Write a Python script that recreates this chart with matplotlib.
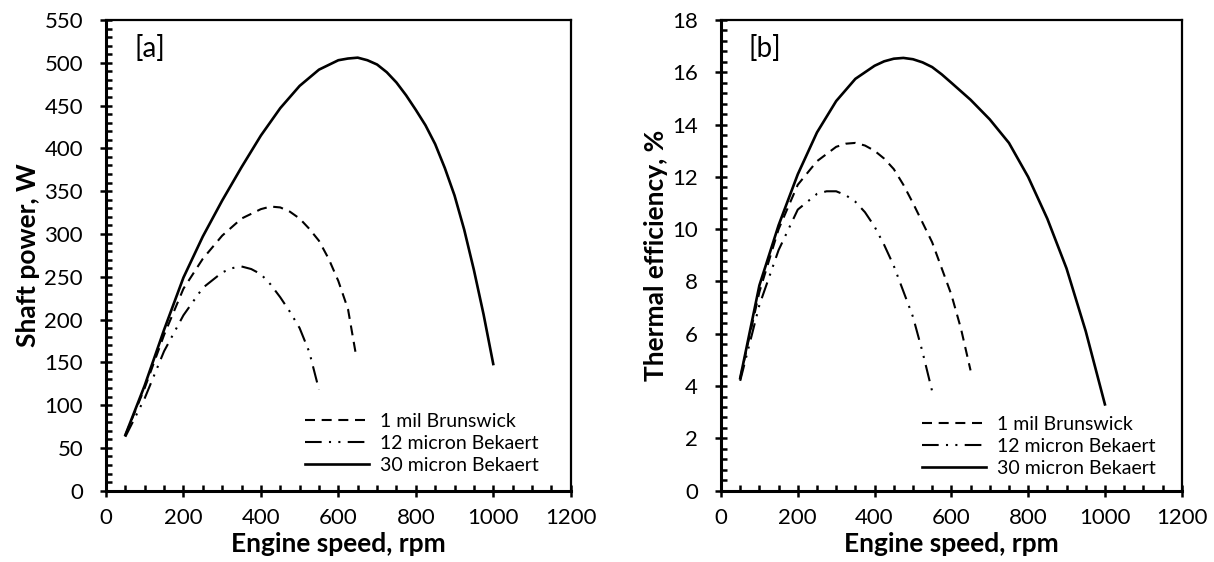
import numpy as np
import matplotlib.pyplot as plt
from matplotlib.ticker import MultipleLocator

plt.rcParams['font.family'] = ['Lato', 'DejaVu Sans']

# --- panel [a]: shaft power, W ---
x_brun_a = [50, 100, 150, 200, 250, 300, 350, 400, 425, 450, 475, 500, 525,
            550, 575, 600, 625, 645]
p_brun = [65, 120, 182, 236, 271, 298, 318, 329, 332, 331, 326, 318, 306,
          292, 271, 245, 212, 160]
x_b12_a = [50, 100, 150, 200, 250, 300, 325, 350, 375, 400, 425, 450, 475,
           500, 525, 550]
p_b12 = [63, 108, 163, 205, 237, 255, 260, 262, 259, 253, 241, 226, 209,
         190, 162, 118]
x_b30_a = [50, 100, 150, 200, 250, 300, 350, 400, 450, 500, 550, 600, 625,
           650, 675, 700, 725, 750, 775, 800, 825, 850, 875, 900, 925, 950,
           975, 1000]
p_b30 = [65, 123, 188, 249, 297, 339, 378, 415, 447, 473, 492, 503, 505,
         506, 503, 498, 489, 477, 462, 445, 427, 405, 377, 345, 305, 258,
         206, 148]

# --- panel [b]: thermal efficiency, % ---
x_brun_b = [50, 100, 150, 200, 250, 300, 325, 350, 375, 400, 425, 450, 475,
            500, 550, 600, 625, 650]
e_brun = [4.3, 7.6, 10.0, 11.7, 12.6, 13.15, 13.27, 13.3, 13.2, 13.0, 12.7,
          12.3, 11.7, 11.0, 9.5, 7.5, 6.2, 4.6]
x_b12_b = [50, 100, 150, 200, 250, 275, 300, 325, 350, 375, 400, 425, 450,
           500, 525, 550]
e_b12 = [4.2, 7.1, 9.2, 10.75, 11.35, 11.45, 11.45, 11.3, 11.05, 10.65,
         10.1, 9.4, 8.6, 6.65, 5.3, 3.8]
x_b30_b = [50, 100, 150, 200, 250, 300, 350, 400, 425, 450, 475, 500, 525,
           550, 575, 600, 650, 700, 750, 800, 850, 900, 950, 1000]
e_b30 = [4.3, 7.85, 10.15, 12.1, 13.7, 14.9, 15.75, 16.25, 16.42, 16.52,
         16.55, 16.5, 16.38, 16.2, 15.92, 15.6, 14.95, 14.2, 13.3, 12.0,
         10.4, 8.5, 6.1, 3.3]

labels = ['1 mil Brunswick', '12 micron Bekaert', '30 micron Bekaert']

fig = plt.figure(figsize=(12.14, 5.62), dpi=100)
ax1 = fig.add_axes([0.0873, 0.1269, 0.3828, 0.8375])
ax2 = fig.add_axes([0.5939, 0.1269, 0.3795, 0.8375])


def draw(ax, xs, ys, ymax, ymajor, yminor, ylabel, tag, legx, legy):
    ax.plot(xs[0], ys[0], color='black', lw=1.5, dashes=(4.8, 3.2), label=labels[0])
    ax.plot(xs[1], ys[1], color='black', lw=1.5,
            dashes=(8, 3.5, 1, 3.5, 1, 3.5), label=labels[1])
    ax.plot(xs[2], ys[2], color='black', lw=1.9, label=labels[2])
    ax.set_xlim(0, 1200)
    ax.set_ylim(0, ymax)
    ax.xaxis.set_major_locator(MultipleLocator(200))
    ax.xaxis.set_minor_locator(MultipleLocator(50))
    ax.yaxis.set_major_locator(MultipleLocator(ymajor))
    ax.yaxis.set_minor_locator(MultipleLocator(yminor))
    ax.tick_params(which='major', direction='inout', length=9, width=1.8,
                   labelsize=16)
    ax.tick_params(axis='x', which='major', pad=8)
    ax.tick_params(axis='y', which='major', pad=12)
    ax.tick_params(which='minor', direction='in', length=4.2, width=1.8)
    ax.tick_params(axis='y', which='both', right=False)
    ax.tick_params(axis='x', which='both', top=False)
    for s in ['left', 'bottom']:
        ax.spines[s].set_linewidth(2.2)
    for s in ['top', 'right']:
        ax.spines[s].set_linewidth(1.6)
    ax.set_xlabel('Engine speed, rpm', fontsize=19, fontweight='bold', labelpad=3)
    ax.set_ylabel(ylabel, fontsize=19, fontweight='bold', labelpad=3)
    ax.text(0.095, 0.94, tag, transform=ax.transAxes, fontsize=20,
            ha='center', va='center')
    ax.legend(loc='center left', bbox_to_anchor=(legx, legy), frameon=False,
              fontsize=14, handlelength=3.3, handletextpad=0.55,
              labelspacing=0.25, borderpad=0, borderaxespad=0)


draw(ax1, [x_brun_a, x_b12_a, x_b30_a], [p_brun, p_b12, p_b30], 550, 50, 10,
     'Shaft power, W', '[a]', 0.428, 0.101)
draw(ax2, [x_brun_b, x_b12_b, x_b30_b], [e_brun, e_b12, e_b30], 18, 2, 0.4,
     'Thermal efficiency, %', '[b]', 0.436, 0.094)

fig.savefig('out.png', dpi=100)
